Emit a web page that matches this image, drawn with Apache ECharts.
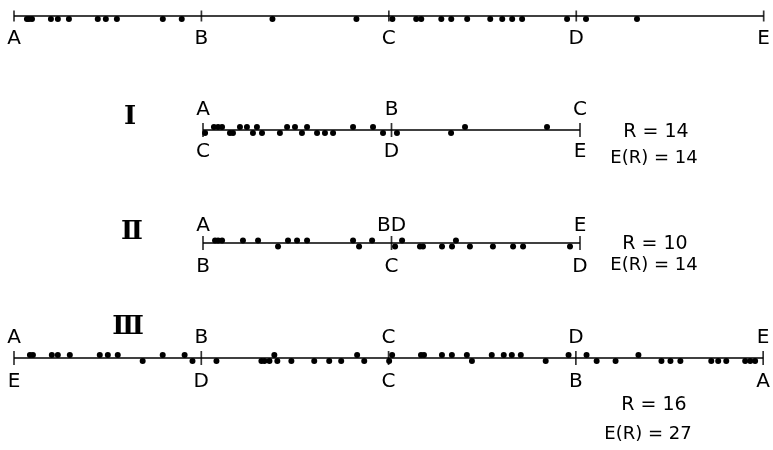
<!DOCTYPE html>
<html>
<head>
<meta charset="utf-8">
<script src="https://cdn.jsdelivr.net/npm/echarts@6/dist/echarts.min.js"></script>
<style>html,body{margin:0;padding:0;background:#fff}#c{width:773px;height:450px}</style>
</head>
<body>
<div id="c"></div>
<script>
// ---- data (positions along each line, in segment units) ----
const baseLabels = ['A', 'B', 'C', 'D', 'E'];
const baseDots = [0.069, 0.080, 0.096, 0.197, 0.234, 0.293, 0.447, 0.490, 0.549, 0.794, 0.895,
  1.379, 1.827, 2.019, 2.146, 2.173, 2.280, 2.333, 2.418, 2.541, 2.605, 2.658, 2.711, 2.951,
  3.052, 3.324];

const oneTopLabels = ['A', 'B', 'C'];
const oneBottomLabels = ['C', 'D', 'E'];
const oneTopDots = [0.058, 0.080, 0.101, 0.196, 0.233, 0.286, 0.446, 0.488, 0.552, 0.796, 0.902,
  1.390, 1.825];
const oneBottomDots = [0.011, 0.143, 0.159, 0.265, 0.313, 0.408, 0.525, 0.605, 0.647, 0.690,
  0.955, 1.029, 1.316];

const twoTopLabels = ['A', 'BD', 'E'];
const twoBottomLabels = ['B', 'C', 'D'];
const twoTopDots = [0.064, 0.080, 0.101, 0.212, 0.292, 0.451, 0.499, 0.552, 0.796, 0.897,
  1.056, 1.342];
const twoBottomDots = [0.398, 0.828, 1.019, 1.151, 1.167, 1.268, 1.321, 1.416, 1.538, 1.645,
  1.698, 1.947];

const threeTopLabels = ['A', 'B', 'C', 'D', 'E'];
const threeBottomLabels = ['E', 'D', 'C', 'B', 'A'];
const threeTopDots = [0.085, 0.101, 0.202, 0.234, 0.298, 0.458, 0.501, 0.554, 0.794, 0.911,
  1.390, 1.832, 2.019, 2.173, 2.189, 2.285, 2.338, 2.418, 2.551, 2.615, 2.658, 2.706, 2.961,
  3.057, 3.334];
const threeBottomDots = [0.687, 0.953, 1.081, 1.321, 1.337, 1.364, 1.406, 1.481, 1.603, 1.683,
  1.747, 1.870, 2.003, 2.445, 2.839, 3.111, 3.212, 3.457, 3.505, 3.558, 3.723, 3.760, 3.803,
  3.904, 3.931, 3.957];

const romanNumerals = ['Ⅰ', 'Ⅱ', 'Ⅲ'];
const rValues = [14, 10, 16];
const expectedR = [14, 14, 27];

// ---- layout / style ----
const INK = '#000';
const LETTER_FONT = 'DejaVu Sans';
const rows = [
  { left: 14, width: 751, center: 16, max: 4, topLabels: null, bottomLabels: baseLabels,
    topMargin: 0, bottomMargin: 13, tickH: 11,
    dots: [[baseDots, -0.3]] },
  { left: 203, width: 377, center: 130, max: 2, topLabels: oneTopLabels, bottomLabels: oneBottomLabels,
    topMargin: 20, bottomMargin: 12, tickH: 14,
    dots: [[oneTopDots, 0.3], [oneBottomDots, -0.3]] },
  { left: 203, width: 377, center: 243, max: 2, topLabels: twoTopLabels, bottomLabels: twoBottomLabels,
    topMargin: 17, bottomMargin: 14, tickH: 14,
    dots: [[twoTopDots, 0.25], [twoBottomDots, -0.35]] },
  { left: 14, width: 751, center: 358, max: 4, topLabels: threeTopLabels, bottomLabels: threeBottomLabels,
    topMargin: 20, bottomMargin: 14, tickH: 14,
    dots: [[threeTopDots, 0.3], [threeBottomDots, -0.3]] }
];
const HALF = 10;

const grid = [], xAxis = [], yAxis = [], series = [];
rows.forEach((r, i) => {
  grid.push({ left: r.left, width: r.width, top: r.center - HALF, height: 2 * HALF, containLabel: false });
  const axisBase = (labels, pos, margin) => ({
    type: 'value', gridIndex: i, position: pos, min: 0, max: r.max, interval: 1,
    axisLine: { show: false }, axisTick: { show: false }, splitLine: { show: false },
    axisLabel: {
      show: !!labels, margin: margin, verticalAlign: 'middle', showMinLabel: true, showMaxLabel: true,
      color: INK, fontSize: 20, fontFamily: LETTER_FONT,
      formatter: v => (labels ? (labels[Math.round(v)] || '') : '')
    }
  });
  const bIdx = xAxis.length;
  xAxis.push(axisBase(r.bottomLabels, 'bottom', r.bottomMargin));
  xAxis.push(axisBase(r.topLabels, 'top', r.topMargin - HALF));
  yAxis.push({ type: 'value', gridIndex: i, min: -1, max: 1, show: false });

  series.push({
    type: 'line', xAxisIndex: bIdx, yAxisIndex: i, silent: true, symbol: 'none', clip: false,
    lineStyle: { color: INK, width: 1.5 }, data: [[0, 0], [r.max, 0]]
  });
  const ticks = [];
  for (let k = 0; k <= r.max; k++) ticks.push([k, 0]);
  series.push({
    type: 'scatter', xAxisIndex: bIdx, yAxisIndex: i, silent: true, clip: false,
    symbol: 'rect', symbolSize: [1.7, r.tickH], itemStyle: { color: INK }, data: ticks
  });
  r.dots.forEach(([arr, off]) => {
    series.push({
      type: 'scatter', xAxisIndex: bIdx, yAxisIndex: i, silent: true, clip: false,
      symbol: 'circle', symbolSize: 6, itemStyle: { color: INK, opacity: 1 },
      data: arr.map(u => [u, off])
    });
  });
});

// annotations
const romanPos = [[130, 117], [132, 232], [128, 327]];
const rPos = [[656, 132], [655, 244], [654, 405]];
const ePos = [[654, 158], [654, 265], [648, 434]];
const graphic = [];
romanNumerals.forEach((t, i) => {
  graphic.push({ type: 'text', x: romanPos[i][0], y: romanPos[i][1], silent: true,
    style: { text: t, fill: INK, font: 'bold 26px "DejaVu Serif"', align: 'center', verticalAlign: 'middle' } });
  graphic.push({ type: 'text', x: rPos[i][0], y: rPos[i][1], silent: true,
    style: { text: 'R = ' + rValues[i], fill: INK, font: '19px "DejaVu Sans"', align: 'center', verticalAlign: 'middle' } });
  graphic.push({ type: 'text', x: ePos[i][0], y: ePos[i][1], silent: true,
    style: { text: 'E(R) = ' + expectedR[i], fill: INK, font: '18px "DejaVu Sans"', align: 'center', verticalAlign: 'middle' } });
});

const chart = echarts.init(document.getElementById('c'), null, { renderer: 'canvas' });
chart.setOption({
  animation: false,
  backgroundColor: '#fff',
  grid, xAxis, yAxis, series, graphic
});
</script>
</body>
</html>
